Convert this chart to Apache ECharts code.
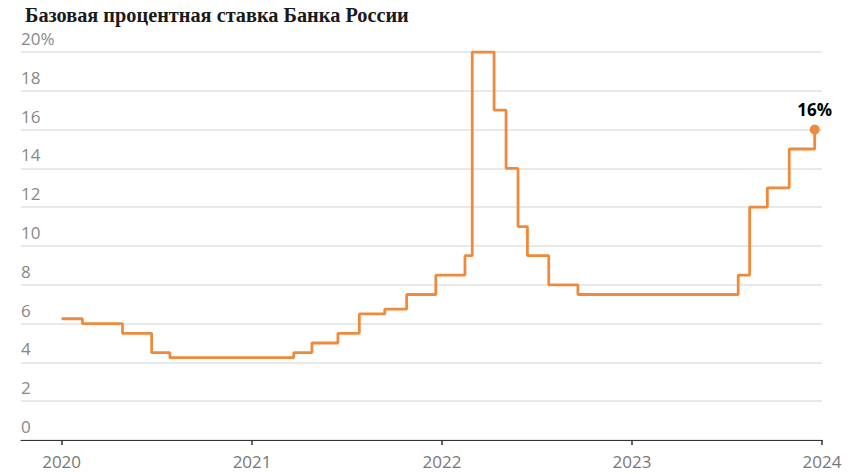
<!DOCTYPE html>
<html><head><meta charset="utf-8">
<script src="https://cdn.jsdelivr.net/npm/echarts@6/dist/echarts.min.js"></script>
<style>html,body{margin:0;padding:0;background:#fff}#c{width:859px;height:473px}</style>
</head><body><div id="c"></div>
<script>
const title = 'Базовая процентная ставка Банка России';
const dates = ['2020-01-01','2020-02-10','2020-04-27','2020-06-22','2020-07-27','2021-03-22','2021-04-26','2021-06-15','2021-07-26','2021-09-13','2021-10-25','2021-12-20','2022-02-14','2022-02-28','2022-04-11','2022-05-04','2022-05-27','2022-06-14','2022-07-25','2022-09-19','2023-07-24','2023-08-15','2023-09-18','2023-10-30','2023-12-18'];
const rates = [6.25,6.0,5.5,4.5,4.25,4.5,5.0,5.5,6.5,6.75,7.5,8.5,9.5,20,17,14,11,9.5,8,7.5,8.5,12,13,15,16];
const yTicks = [0,2,4,6,8,10,12,14,16,18,20];
const xMin = '2019-10-15';
const xMax = '2024-01-01';

const lineData = dates.map((d,i)=>[d, rates[i]]);
const last = lineData[lineData.length-1];
const fontUI = '"Open Sans", sans-serif';
const chart = echarts.init(document.getElementById('c'), null, {renderer:'svg'});
chart.setOption({
  animation:false,
  title:{text:title,left:20,top:0,textStyle:{fontFamily:'"Liberation Serif", serif',fontWeight:'bold',fontSize:20.3,color:'#1a1a1a'}},
  grid:{left:21,right:37,top:52,bottom:33,containLabel:false},
  xAxis:{type:'time',min:xMin,max:xMax,
    minInterval:365*864e5,maxInterval:366*864e5,
    axisLine:{lineStyle:{color:'#333',width:1}},
    axisTick:{show:true,length:5,lineStyle:{color:'#333',width:1.5}},
    splitLine:{show:false},
    axisLabel:{formatter:'{yyyy}',showMaxLabel:true,showMinLabel:false,fontFamily:fontUI,fontSize:17,color:'#777',margin:13}
  },
  yAxis:{type:'value',min:yTicks[0],max:yTicks[yTicks.length-1],interval:2,
    axisLine:{show:false},axisTick:{show:false},
    splitLine:{lineStyle:{color:'#e2e2e2',width:1.5}},
    axisLabel:{inside:true,margin:0,verticalAlign:'bottom',align:'left',padding:[0,0,5,0],
      fontFamily:fontUI,fontSize:17,color:'#888',
      formatter:v=> v===yTicks[yTicks.length-1] ? v+'%' : String(v)}
  },
  series:[
    {type:'line',step:'end',data:lineData,symbol:'none',
      lineStyle:{color:'#ef8a3d',width:2.8},z:3},
    {type:'scatter',data:[last],symbol:'circle',symbolSize:10,
      itemStyle:{color:'#ef8a3d',opacity:1},z:4,
      label:{show:true,position:'top',distance:7,formatter:p=>p.value[1]+'%',
        fontFamily:fontUI,fontWeight:'bold',fontSize:17,color:'#000'}}
  ]
});
</script></body></html>
